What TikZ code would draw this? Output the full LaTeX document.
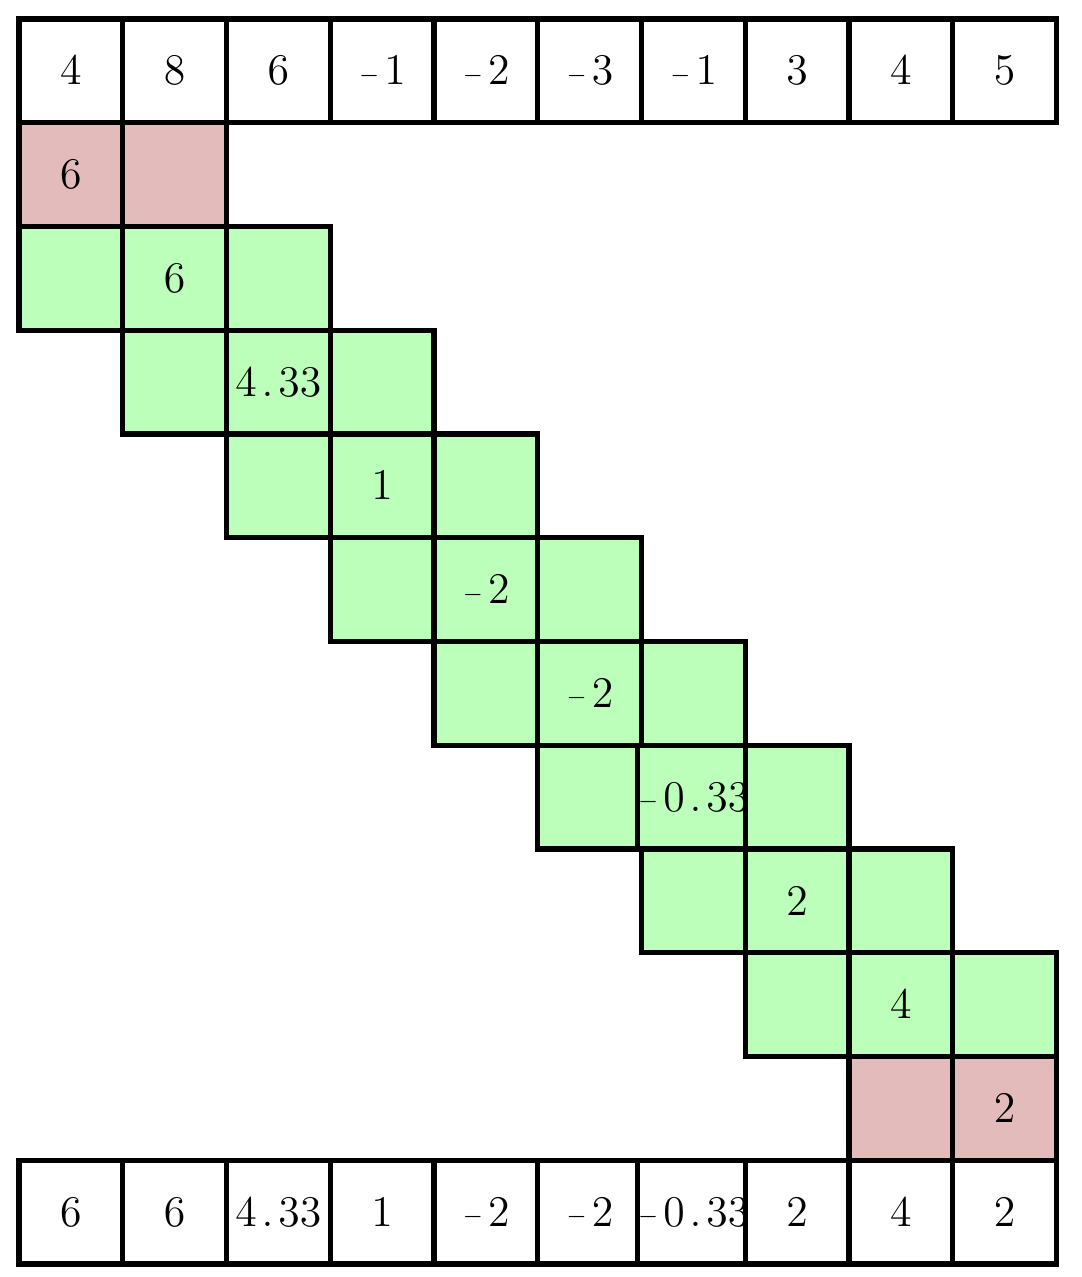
\documentclass[tikz,border=0pt]{standalone}
\definecolor{cgreen}{RGB}{187,255,187}
\definecolor{cpink}{RGB}{227,187,187}
\newcommand{\mneg}{\raisebox{1pt}{\fontsize{6.5}{6.5}\selectfont$-$}\hspace{1.3pt}}
\newcommand{\dt}{\mkern2mu.\mkern2mu}
\begin{document}
\begin{tikzpicture}[x=1cm,y=1cm,
  cell/.style={draw=black,line width=1.4pt,rectangle,minimum width=1cm,minimum height=1cm,inner sep=0pt,
    font=\fontsize{11.5}{13}\selectfont},
  cw/.style={cell,fill=white},
  cg/.style={cell,fill=cgreen},
  cp/.style={cell,fill=cpink}]
\useasboundingbox (-0.183,-12.125) rectangle (10.241,0.183);
% top row
\node[cw] (t0) at (0.5,-0.5) {$4$};
\node[cw] (t1) at (1.5,-0.5) {$8$};
\node[cw] (t2) at (2.5,-0.5) {$6$};
\node[cw] (t3) at (3.5,-0.5) {\mneg$1$};
\node[cw] (t4) at (4.5,-0.5) {\mneg$2$};
\node[cw] (t5) at (5.5,-0.5) {\mneg$3$};
\node[cw] (t6) at (6.5,-0.5) {\mneg$1$};
\node[cw] (t7) at (7.5,-0.5) {$3$};
\node[cw] (t8) at (8.5,-0.5) {$4$};
\node[cw] (t9) at (9.5,-0.5) {$5$};
% row 1 (pink)
\node[cp] (r1c0) at (0.5,-1.5) {$6$};
\node[cp] (r1c1) at (1.5,-1.5) {};
% green rows
\node[cg] (r2c0) at (0.5,-2.5) {};
\node[cg] (r2c1) at (1.5,-2.5) {$6$};
\node[cg] (r2c2) at (2.5,-2.5) {};
\node[cg] (r3c1) at (1.5,-3.5) {};
\node[cg] (r3c2) at (2.5,-3.5) {$4\dt33$};
\node[cg] (r3c3) at (3.5,-3.5) {};
\node[cg] (r4c2) at (2.5,-4.5) {};
\node[cg] (r4c3) at (3.5,-4.5) {$1$};
\node[cg] (r4c4) at (4.5,-4.5) {};
\node[cg] (r5c3) at (3.5,-5.5) {};
\node[cg] (r5c4) at (4.5,-5.5) {\mneg$2$};
\node[cg] (r5c5) at (5.5,-5.5) {};
\node[cg] (r6c4) at (4.5,-6.5) {};
\node[cg] (r6c5) at (5.5,-6.5) {\mneg$2$};
\node[cg] (r6c6) at (6.5,-6.5) {};
\node[cg] (r7c5) at (5.5,-7.5) {};
\node[cg] (r7c6) at (6.5,-7.5) {\mneg$0\dt33$};
\node[cg] (r7c7) at (7.5,-7.5) {};
\node[cg] (r8c6) at (6.5,-8.5) {};
\node[cg] (r8c7) at (7.5,-8.5) {$2$};
\node[cg] (r8c8) at (8.5,-8.5) {};
\node[cg] (r9c7) at (7.5,-9.5) {};
\node[cg] (r9c8) at (8.5,-9.5) {$4$};
\node[cg] (r9c9) at (9.5,-9.5) {};
% row 10 (pink)
\node[cp] (r10c8) at (8.5,-10.5) {};
\node[cp] (r10c9) at (9.5,-10.5) {$2$};
% bottom row
\node[cw] (b0) at (0.5,-11.5) {$6$};
\node[cw] (b1) at (1.5,-11.5) {$6$};
\node[cw] (b2) at (2.5,-11.5) {$4\dt33$};
\node[cw] (b3) at (3.5,-11.5) {$1$};
\node[cw] (b4) at (4.5,-11.5) {\mneg$2$};
\node[cw] (b5) at (5.5,-11.5) {\mneg$2$};
\node[cw] (b6) at (6.5,-11.5) {\mneg$0\dt33$};
\node[cw] (b7) at (7.5,-11.5) {$2$};
\node[cw] (b8) at (8.5,-11.5) {$4$};
\node[cw] (b9) at (9.5,-11.5) {$2$};
\end{tikzpicture}
\end{document}
